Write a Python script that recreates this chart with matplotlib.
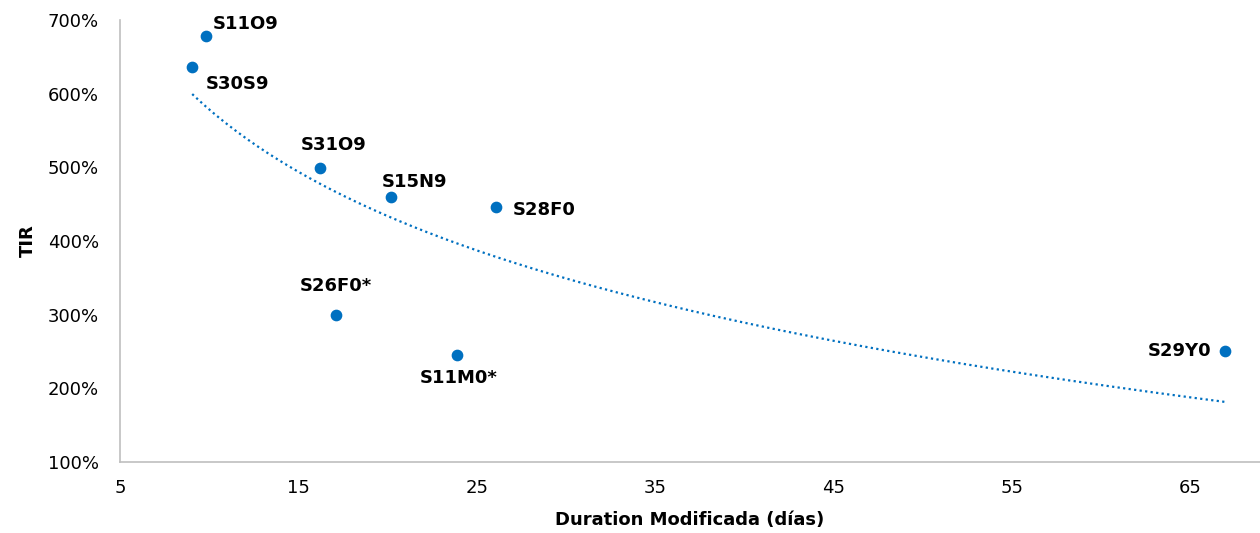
import numpy as np
import matplotlib
matplotlib.use("Agg")
import matplotlib.pyplot as plt
from matplotlib.ticker import FuncFormatter

names = ["S11O9", "S30S9", "S31O9", "S15N9", "S28F0", "S26F0*", "S11M0*", "S29Y0"]
duration = [9.8, 9.05, 16.2, 20.2, 26.1, 17.1, 23.9, 66.95]
tir = [678, 636, 499, 460, 446, 300, 245, 251]

label_offsets = {
    "S11O9": (5, 2, "left", "bottom"),
    "S30S9": (10, -6, "left", "top"),
    "S31O9": (-14, 10, "left", "bottom"),
    "S15N9": (-7, 4, "left", "bottom"),
    "S28F0": (12, -2, "left", "center"),
    "S26F0*": (-26, 14, "left", "bottom"),
    "S11M0*": (-27, -10, "left", "top"),
    "S29Y0": (-10, 0, "right", "center"),
}

plt.rcParams['font.family'] = ['DejaVu Sans']
fig = plt.figure(figsize=(12.6, 5.33), dpi=100)
ax = fig.add_axes([0.0952, 0.1332, 0.9048, 0.8293])

blue = "#0070C0"
ax.scatter(duration, tir, s=55, color=blue, zorder=3)

# logarithmic trendline
x = np.array(duration)
y = np.array(tir)
b, a = np.polyfit(np.log(x), y, 1)
xs = np.linspace(x.min(), x.max(), 300)
ax.plot(xs, a + b * np.log(xs), color=blue, linestyle=(0, (1, 1.5)), linewidth=1.6, zorder=2)

for n, xv, yv in zip(names, duration, tir):
    dx, dy, ha, va = label_offsets[n]
    ax.annotate(n, (xv, yv), xytext=(dx, dy), textcoords="offset points",
                ha=ha, va=va, fontsize=13, fontweight="bold", color="black")

ax.set_xlim(5, 68.9)
ax.set_ylim(100, 700)
ax.set_xticks([5, 15, 25, 35, 45, 55, 65])
ax.set_yticks([100, 200, 300, 400, 500, 600, 700])
ax.yaxis.set_major_formatter(FuncFormatter(lambda v, p: f"{int(v)}%"))
ax.tick_params(length=0, labelsize=13, pad=12)
ax.tick_params(axis='y', pad=15)
for s in ["top", "right"]:
    ax.spines[s].set_visible(False)
for s in ["left", "bottom"]:
    ax.spines[s].set_color("#BFBFBF")
    ax.spines[s].set_linewidth(1.2)
ax.set_xlabel("Duration Modificada (días)", fontsize=13, fontweight="bold", labelpad=10)
ax.set_ylabel("TIR", fontsize=13, fontweight="bold", labelpad=8)

fig.savefig("out.png", dpi=100)
